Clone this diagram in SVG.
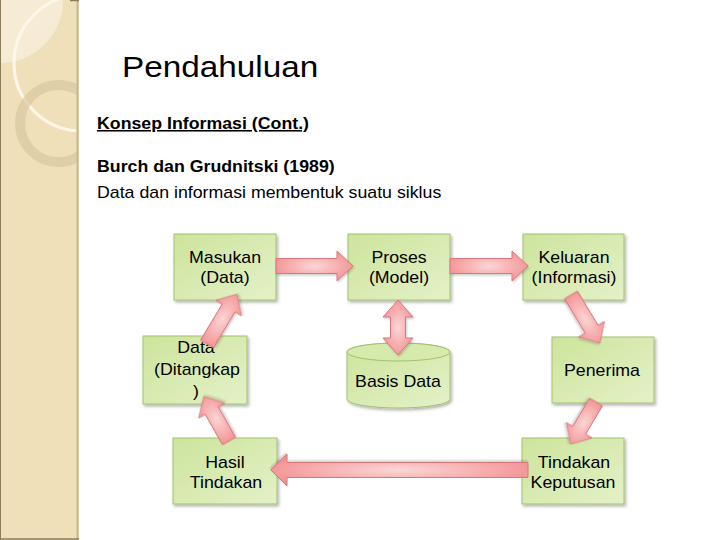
<svg xmlns="http://www.w3.org/2000/svg" width="720" height="540" viewBox="0 0 720 540">
<style>
.t{font-family:"Liberation Sans",Arial,sans-serif;font-size:16px;fill:#000;text-anchor:middle}
.h{font-family:"Liberation Sans",Arial,sans-serif;fill:#000}
.box{fill:url(#gBox);stroke:#a2c16e;stroke-width:1;filter:url(#sh)}
.arr{fill:url(#gArr);stroke:#d9787c;stroke-width:1;filter:url(#sh2)}
</style>
<defs>
<linearGradient id="gBox" x1="0" y1="0" x2="1" y2="1">
<stop offset="0" stop-color="#cde49c"/>
<stop offset="1" stop-color="#e4f1c8"/>
</linearGradient>
<radialGradient id="gArr" cx="0.5" cy="0.5" r="0.6">
<stop offset="0" stop-color="#fcd6d6"/>
<stop offset="1" stop-color="#f28c8e"/>
</radialGradient>
<filter id="sh" x="-10%" y="-10%" width="130%" height="130%">
<feDropShadow dx="1.5" dy="2" stdDeviation="1.5" flood-color="#000" flood-opacity="0.3"/>
</filter>
<filter id="sh2" x="-20%" y="-20%" width="140%" height="140%">
<feDropShadow dx="1" dy="1.5" stdDeviation="1" flood-color="#000" flood-opacity="0.2"/>
</filter>
<clipPath id="barClip"><rect x="0" y="0" width="77" height="540"/></clipPath>
</defs>
<rect width="720" height="540" fill="#fff"/>
<g id="sidebar">
<rect x="0" y="0" width="79" height="540" fill="#f0e0b9"/>
<g clip-path="url(#barClip)">
<path d="M0,0 H63 A63,63 0 0 1 0,63 Z" fill="#f6ecd5"/>
<circle cx="82" cy="63" r="68" fill="none" stroke="#fcf7e9" stroke-width="3"/>
<circle cx="58.5" cy="123.5" r="38.5" fill="none" stroke="#d4c199" stroke-width="10" opacity="0.6"/>
</g>
<line x1="77.5" y1="0" x2="77.5" y2="540" stroke="#c9b58b" stroke-width="2"/>
<line x1="0.5" y1="0" x2="0.5" y2="540" stroke="#8c7c58" stroke-width="1"/>
<line x1="0" y1="539" x2="79" y2="539" stroke="#8c7c58" stroke-width="1.5"/>
<line x1="70" y1="0.5" x2="79" y2="0.5" stroke="#8c7c58" stroke-width="1.5"/>
</g>
<g id="headings">
<text class="h" font-size="30" transform="translate(122,77) scale(1.11,1)">Pendahuluan</text>
<text class="h" font-size="16" font-weight="bold" text-decoration="underline" transform="translate(97,129) scale(1.11,1)">Konsep Informasi (Cont.)</text>
<text class="h" font-size="16" font-weight="bold" transform="translate(97,172) scale(1.11,1)">Burch dan Grudnitski (1989)</text>
<text class="h" font-size="16" transform="translate(97,198) scale(1.11,1)">Data dan informasi membentuk suatu siklus</text>
</g>
<g id="masukan">
<rect class="box" x="174" y="234" width="102" height="66"/>
<text class="t" transform="translate(225,263) scale(1.11,1)">Masukan</text>
<text class="t" transform="translate(225,283) scale(1.11,1)">(Data)</text>
</g>
<g id="proses">
<rect class="box" x="348" y="234" width="102" height="66"/>
<text class="t" transform="translate(399,263) scale(1.11,1)">Proses</text>
<text class="t" transform="translate(399,283) scale(1.11,1)">(Model)</text>
</g>
<g id="keluaran">
<rect class="box" x="523" y="234" width="101" height="66"/>
<text class="t" transform="translate(574,263) scale(1.11,1)">Keluaran</text>
<text class="t" transform="translate(574,283) scale(1.11,1)">(Informasi)</text>
</g>
<g id="data-ditangkap">
<rect class="box" x="143" y="336" width="104" height="68"/>
<text class="t" transform="translate(196,353) scale(1.11,1)">Data</text>
<text class="t" transform="translate(197,375) scale(1.11,1)">(Ditangkap</text>
<text class="t" transform="translate(196,397) scale(1.11,1)">)</text>
</g>
<g id="basis-data">
<path class="box" d="M347,352 V399 A51.5,9 0 0 0 450,399 V352 A51.5,9 0 0 0 347,352 Z"/>
<ellipse cx="398.5" cy="352" rx="51.5" ry="9" fill="#d6eaae" stroke="#a2c16e" stroke-width="1"/>
<text class="t" transform="translate(398,387) scale(1.11,1)">Basis Data</text>
</g>
<g id="penerima">
<rect class="box" x="552" y="337" width="102" height="66"/>
<text class="t" transform="translate(602,376) scale(1.11,1)">Penerima</text>
</g>
<g id="hasil-tindakan">
<rect class="box" x="173" y="438" width="104" height="66"/>
<text class="t" transform="translate(225,468) scale(1.11,1)">Hasil</text>
<text class="t" transform="translate(226,488) scale(1.11,1)">Tindakan</text>
</g>
<g id="tindakan-keputusan">
<rect class="box" x="522" y="438" width="102" height="66"/>
<text class="t" transform="translate(574,468) scale(1.11,1)">Tindakan</text>
<text class="t" transform="translate(573,488) scale(1.11,1)">Keputusan</text>
</g>
<g id="connectors">
<path class="arr" transform="translate(276,266)" d="M0,-7.5 H61 V-15 L77,0 L61,15 V7.5 H0 Z"/>
<path class="arr" transform="translate(450,266)" d="M0,-7.5 H62 V-15 L78,0 L62,15 V7.5 H0 Z"/>
<path class="arr" d="M390.5,317 H383 L398,300 L413,317 H405.5 V338 H413 L398,355 L383,338 H390.5 Z"/>
<path class="arr" transform="translate(571,295) rotate(58.9)" d="M0,-7.5 H40 V-15 L56,0 L40,15 V7.5 H0 Z"/>
<path class="arr" transform="translate(596,402) rotate(120.8)" d="M0,-7.5 H33 V-15 L49,0 L33,15 V7.5 H0 Z"/>
<path class="arr" transform="translate(528,470) rotate(180)" d="M0,-7.5 H241 V-16 L257,0 L241,16 V7.5 H0 Z"/>
<path class="arr" transform="translate(229,441) rotate(-119.6)" d="M0,-7.5 H35 V-15 L51,0 L35,15 V7.5 H0 Z"/>
<path class="arr" transform="translate(207,344) rotate(-59)" d="M0,-7.5 H42 V-15 L58,0 L42,15 V7.5 H0 Z"/>
</g>
</svg>
